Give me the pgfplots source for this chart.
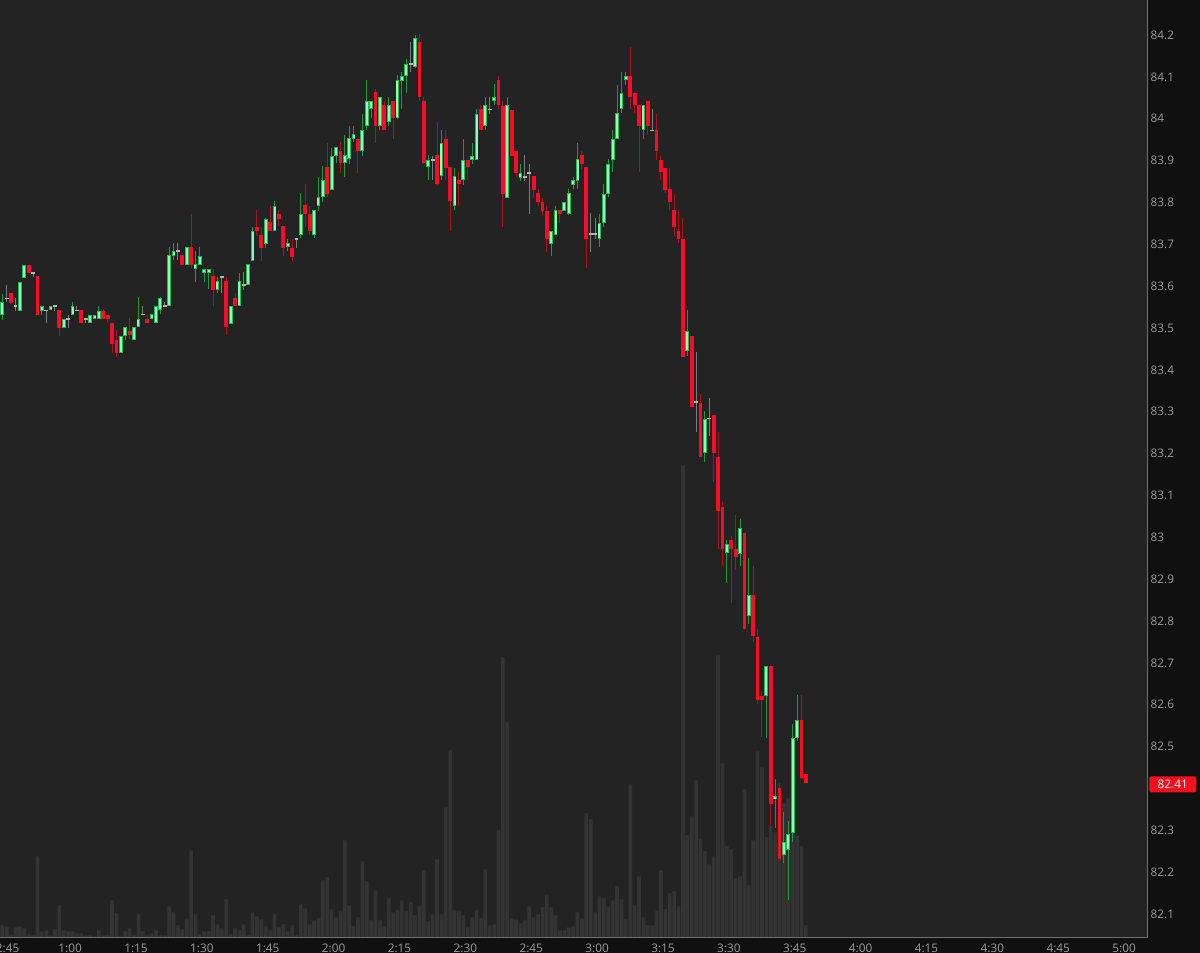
\documentclass[border=0pt]{standalone}
\usepackage{pgfplots}
\usepackage{pgfplotstable}
\usepackage{fontspec}
\setmainfont{Open Sans}
\pgfplotsset{compat=1.18}
\definecolor{bgplot}{HTML}{232323}
\definecolor{bgout}{HTML}{101010}
\definecolor{volc}{HTML}{333333}
\definecolor{upfill}{HTML}{8CFFB8}
\definecolor{upedge}{HTML}{1FC04F}
\definecolor{upwick}{HTML}{1A9A3C}
\definecolor{dnfill}{HTML}{FF0A28}
\definecolor{dnwick}{HTML}{B0101E}
\definecolor{dojiwick}{HTML}{7C7C7C}
\definecolor{dojibody}{HTML}{B4B4B4}
\definecolor{axisc}{HTML}{707070}
\definecolor{labc}{HTML}{9C9C9C}
\definecolor{lastc}{HTML}{F5101F}

\pgfplotstableread{
t o h l c
45 83.531 83.583 83.521 83.563
49 83.541 83.612 83.541 83.612
50 83.622 83.653 83.622 83.653
54 83.542 83.553 83.531 83.553
56 83.543 83.553 83.543 83.553
59 83.501 83.523 83.501 83.523
61 83.531 83.563 83.531 83.553
65 83.513 83.532 83.513 83.532
66 83.522 83.532 83.522 83.532
67 83.522 83.553 83.522 83.543
72 83.441 83.483 83.441 83.483
73 83.482 83.504 83.473 83.504
75 83.473 83.504 83.473 83.504
76 83.504 83.574 83.504 83.523
79 83.522 83.533 83.522 83.533
80 83.513 83.553 83.513 83.553
81 83.543 83.573 83.533 83.573
83 83.553 83.695 83.553 83.675
84 83.673 83.704 83.663 83.684
87 83.652 83.693 83.652 83.693
89 83.643 83.684 83.611 83.653
90 83.652 83.693 83.652 83.673
91 83.632 83.643 83.611 83.643
92 83.632 83.643 83.593 83.643
94 83.591 83.623 83.583 83.613
97 83.512 83.553 83.512 83.553
99 83.553 83.634 83.553 83.613
101 83.603 83.653 83.603 83.653
102 83.661 83.743 83.661 83.733
105 83.703 83.762 83.692 83.762
107 83.733 83.804 83.733 83.793
110 83.692 83.713 83.683 83.703
113 83.723 83.823 83.715 83.774
116 83.722 83.782 83.714 83.782
117 83.792 83.863 83.782 83.814
118 83.813 83.886 83.802 83.854
120 83.831 83.933 83.831 83.913
121 83.912 83.933 83.894 83.933
123 83.894 83.963 83.862 83.913
124 83.903 83.983 83.894 83.953
125 83.952 83.983 83.944 83.963
127 83.924 84.013 83.912 83.973
128 83.983 84.093 83.973 84.042
129 84.023 84.042 84.001 84.042
131 83.983 84.053 83.973 84.053
133 83.992 84.053 83.983 84.033
135 84.001 84.105 84.001 84.093
136 84.091 84.112 84.023 84.103
137 84.103 84.144 84.062 84.132
139 84.123 84.202 84.123 84.194
142 83.884 83.914 83.854 83.903
145 83.863 83.973 83.854 83.943
148 83.792 83.884 83.782 83.863
150 83.854 83.953 83.844 83.903
152 83.903 83.943 83.894 83.913
153 83.903 84.023 83.903 84.013
155 83.983 84.053 83.973 84.033
157 84.043 84.083 84.033 84.053
160 83.812 84.054 83.812 84.033
163 83.861 83.893 83.852 83.872
170 83.702 83.732 83.673 83.732
171 83.722 83.792 83.722 83.782
173 83.782 83.802 83.782 83.802
174 83.772 83.832 83.772 83.822
175 83.842 83.861 83.832 83.853
176 83.852 83.943 83.832 83.904
181 83.713 83.774 83.693 83.752
182 83.752 83.844 83.742 83.822
183 83.822 83.904 83.812 83.893
184 83.903 83.973 83.872 83.952
185 83.952 84.082 83.952 84.014
186 84.023 84.112 84.013 84.063
187 84.093 84.112 84.082 84.104
191 83.973 84.033 83.952 84.033
201 83.444 83.545 83.433 83.494
205 83.203 83.303 83.181 83.284
210 82.962 82.994 82.893 82.984
213 82.962 83.044 82.933 83.023
215 82.813 82.952 82.793 82.862
219 82.623 82.693 82.522 82.693
221 82.375 82.424 82.305 82.383
223 82.243 82.345 82.224 82.273
224 82.253 82.323 82.134 82.293
225 82.293 82.554 82.273 82.522
226 82.522 82.623 82.514 82.564
}\up

\pgfplotstableread{
t o h l c
47 83.584 83.584 83.561 83.561
51 83.653 83.653 83.632 83.632
53 83.624 83.624 83.531 83.531
58 83.543 83.543 83.481 83.501
63 83.543 83.543 83.513 83.513
68 83.543 83.545 83.521 83.522
69 83.532 83.533 83.513 83.522
70 83.514 83.514 83.441 83.462
71 83.473 83.496 83.432 83.441
74 83.494 83.523 83.473 83.483
78 83.523 83.533 83.514 83.514
86 83.675 83.675 83.652 83.652
88 83.693 83.774 83.643 83.652
93 83.625 83.643 83.553 83.591
96 83.613 83.623 83.483 83.504
98 83.573 83.583 83.553 83.553
103 83.743 83.782 83.723 83.733
104 83.723 83.743 83.661 83.692
106 83.754 83.792 83.733 83.733
108 83.773 83.782 83.743 83.762
109 83.743 83.743 83.672 83.692
111 83.692 83.713 83.661 83.672
114 83.793 83.844 83.742 83.773
115 83.774 83.793 83.722 83.732
119 83.886 83.944 83.814 83.822
122 83.924 83.944 83.871 83.894
126 83.953 83.953 83.871 83.924
130 84.063 84.073 83.943 83.983
132 84.033 84.043 83.973 83.973
134 84.042 84.042 83.953 84.001
140 84.184 84.202 84.043 84.053
141 84.043 84.053 83.894 83.894
144 83.914 83.993 83.844 83.844
146 83.953 83.973 83.854 83.884
147 83.884 83.884 83.733 83.804
149 83.854 83.874 83.792 83.844
151 83.903 83.903 83.854 83.884
154 84.023 84.033 83.973 83.973
158 84.093 84.103 84.023 84.033
159 84.033 84.043 83.742 83.822
161 84.023 84.023 83.912 83.912
162 83.925 83.925 83.862 83.872
166 83.863 83.863 83.812 83.831
167 83.822 83.832 83.792 83.802
168 83.802 83.812 83.772 83.782
169 83.782 83.792 83.682 83.713
172 83.782 83.782 83.752 83.772
177 83.913 83.923 83.881 83.892
178 83.884 83.884 83.643 83.713
188 84.104 84.172 84.023 84.053
189 84.063 84.063 84.013 84.033
190 84.033 84.033 83.872 83.983
192 84.042 84.042 83.961 83.983
194 83.973 84.013 83.903 83.923
195 83.903 83.913 83.854 83.872
196 83.883 83.883 83.822 83.832
197 83.832 83.883 83.782 83.802
198 83.782 83.822 83.722 83.742
199 83.733 83.782 83.702 83.713
200 83.714 83.764 83.432 83.433
202 83.482 83.482 83.312 83.312
204 83.323 83.343 83.193 83.193
207 83.294 83.294 83.132 83.203
208 83.193 83.253 82.972 83.064
209 83.073 83.084 82.933 82.972
211 82.994 83.003 82.843 82.972
212 82.972 83.054 82.922 82.952
214 83.012 83.012 82.783 82.783
216 82.862 82.934 82.751 82.763
217 82.763 82.783 82.603 82.613
218 82.623 82.634 82.522 82.613
220 82.693 82.693 82.313 82.363
222 82.403 82.413 82.233 82.233
227 82.564 82.623 82.424 82.424
228 82.434 82.434 82.413 82.413
}\down

\pgfplotstableread{
t o h l c
46 83.572 83.603 83.561 83.572
48 83.554 83.572 83.541 83.554
52 83.632 83.632 83.622 83.632
55 83.543 83.545 83.513 83.543
57 83.553 83.555 83.541 83.553
60 83.522 83.533 83.501 83.522
62 83.543 83.553 83.541 83.543
64 83.522 83.522 83.513 83.522
77 83.533 83.553 83.533 83.533
82 83.553 83.563 83.553 83.553
85 83.684 83.704 83.663 83.684
95 83.623 83.623 83.583 83.623
100 83.603 83.634 83.591 83.603
112 83.713 83.713 83.692 83.713
138 84.132 84.184 84.113 84.132
143 83.903 83.913 83.854 83.903
156 84.023 84.053 84.013 84.023
164 83.861 83.913 83.852 83.861
165 83.872 83.893 83.772 83.872
179 83.725 83.774 83.682 83.725
180 83.725 83.764 83.713 83.725
193 83.973 84.023 83.973 83.973
203 83.324 83.442 83.253 83.324
206 83.284 83.334 83.243 83.284
}\doji

\pgfplotstableread{
t v
45 12
46 11
47 2
48 10
49 11
50 9
51 3
52 2
53 81
54 6
55 7
56 2
57 8
58 32
59 7
60 6
61 6
62 4
63 4
64 2
65 2
66 1
67 7
68 2
69 2
70 37
71 24
72 1
73 6
74 9
75 2
76 23
77 6
78 2
79 4
80 7
81 2
82 2
83 31
84 25
85 12
86 8
87 18
88 87
89 23
90 3
91 6
92 6
93 22
94 13
95 9
96 38
97 3
98 9
99 7
100 13
101 2
102 25
103 21
104 18
105 11
106 7
107 23
108 10
109 13
110 6
111 12
112 2
113 33
114 29
115 13
116 17
117 19
118 57
119 60
120 28
121 20
122 26
123 97
124 32
125 11
126 20
127 76
128 56
129 17
130 47
131 17
132 11
133 39
134 25
135 27
136 37
137 26
138 35
139 22
140 31
141 67
142 16
143 23
144 78
145 23
146 130
147 187
148 27
149 26
150 22
151 10
152 20
153 27
154 19
155 68
156 12
157 13
158 107
159 280
160 215
161 19
162 18
163 14
164 17
165 31
166 20
167 23
168 30
169 42
170 30
171 22
172 7
173 7
174 10
175 11
176 25
177 19
178 124
179 118
180 25
181 41
182 39
183 31
184 37
185 51
186 38
187 18
188 153
189 32
190 61
191 20
192 12
193 12
194 26
195 67
196 28
197 44
198 46
199 31
200 472
201 102
202 121
203 157
204 98
205 86
206 73
207 81
208 282
209 174
210 91
211 88
212 59
213 61
214 148
215 52
216 97
217 186
218 170
219 100
220 112
221 105
222 125
223 134
224 139
225 110
226 102
227 91
228 12
}\vol

\pgfplotsset{
  base/.style={at={(0pt,7.85pt)}, anchor=south west, scale only axis,
    width=573.65pt, height=468.65pt, xmin=44.48, xmax=305.75},
  eb/.style 2 args={draw=none, mark=none, forget plot,
    error bars/.cd, y dir=both, y explicit, error mark=none,
    error bar style={line width=#1, color=#2}},
}

\begin{document}
\begin{tikzpicture}[font=\fontsize{5.9}{7}\selectfont]
\path[use as bounding box, fill=bgout] (0,0) rectangle (600pt,476.5pt);
\clip (0,0) rectangle (600pt,476.5pt);
\fill[bgplot] (0,7.85pt) rectangle (573.65pt,476.5pt);

\begin{axis}[base, ymin=0, ymax=937.3, axis lines=none, ybar, bar width=1.85pt]
\addplot[fill=volc, draw=none] table[x=t, y=v] \vol;
\end{axis}

\begin{axis}[base, ymin=82.0445, ymax=84.2836,
  clip mode=individual,
  axis line style={draw=none}, major tick length=0pt, tick style={draw=none},
  xtick={45,60,75,90,105,120,135,150,165,180,195,210,225,240,255,270,285,300},
  xticklabels={12:45,1:00,1:15,1:30,1:45,2:00,2:15,2:30,2:45,3:00,3:15,3:30,3:45,4:00,4:15,4:30,4:45,5:00},
  xticklabel style={anchor=north, inner sep=0pt, yshift=-3pt, xshift=1pt, text=labc},
  ytick={82.1,82.2,82.3,82.4,82.5,82.6,82.7,82.8,82.9,83,83.1,83.2,83.3,83.4,83.5,83.6,83.7,83.8,83.9,84,84.1,84.2},
  yticklabel pos=right,
  yticklabel style={/pgf/number format/fixed, /pgf/number format/precision=1,
    /pgf/number format/assume math mode=true, anchor=west, inner sep=0pt, xshift=1.5pt, text=labc},
]
% wicks
\addplot[eb={0.5pt}{upwick}] table[x=t, y expr={(\thisrow{h}+\thisrow{l})/2}, y error expr={(\thisrow{h}-\thisrow{l})/2}] \up;
\addplot[eb={0.5pt}{dnwick}] table[x=t, y expr={(\thisrow{h}+\thisrow{l})/2}, y error expr={(\thisrow{h}-\thisrow{l})/2}] \down;
\addplot[eb={0.5pt}{dojiwick}] table[x=t, y expr={(\thisrow{h}+\thisrow{l})/2}, y error expr={(\thisrow{h}-\thisrow{l})/2}] \doji;
% bodies
\addplot[eb={1.9pt}{upedge}] table[x=t, y expr={(\thisrow{o}+\thisrow{c})/2}, y error expr={max(abs(\thisrow{c}-\thisrow{o})/2,0.0012)}] \up;
\addplot[draw=none, mark=none, forget plot, error bars/.cd, y dir=both, y explicit, error mark=none,
  error bar style={line width=1.0pt, color=upfill, shorten >=0.5pt}]
  table[x=t, y expr={(\thisrow{o}+\thisrow{c})/2}, y error expr={max(abs(\thisrow{c}-\thisrow{o})/2,0.0012)}] \up;
\addplot[eb={1.9pt}{dnfill}] table[x=t, y expr={(\thisrow{o}+\thisrow{c})/2}, y error expr={max(abs(\thisrow{c}-\thisrow{o})/2,0.0012)}] \down;
\addplot[eb={1.9pt}{dojibody}] table[x=t, y expr={(\thisrow{o}+\thisrow{c})/2}, y error expr={0.0012}] \doji;
\draw[axisc, line width=0.5pt] (rel axis cs:0,0) -- (rel axis cs:1,0) -- (rel axis cs:1,1);
\coordinate (lastp) at (axis cs:305.75,82.41);
\end{axis}
\node[fill=lastc, text=white, anchor=west, inner sep=0pt, minimum width=23.5pt, minimum height=8pt, rounded corners=1pt, xshift=0.8pt] at (lastp) {82.41};
\end{tikzpicture}
\end{document}
